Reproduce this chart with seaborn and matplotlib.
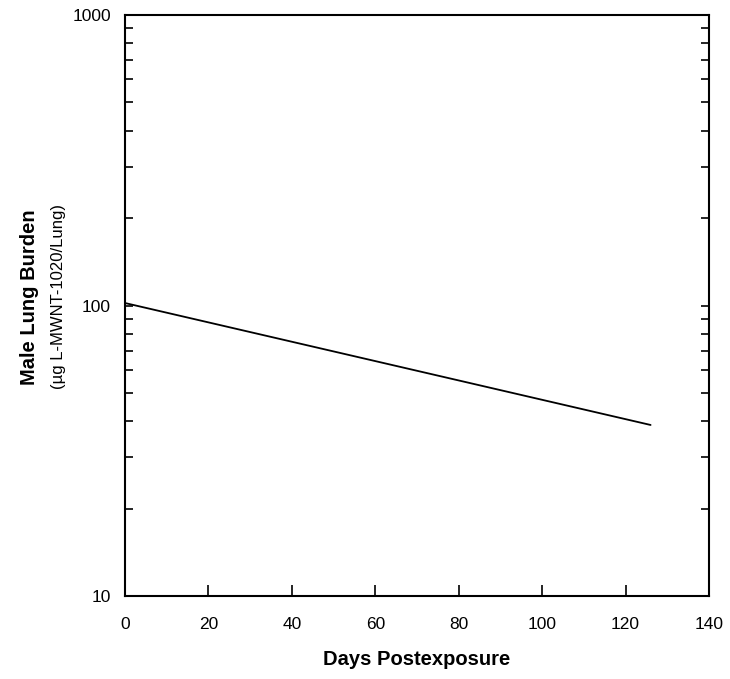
import pandas as pd
import seaborn as sns
import matplotlib.pyplot as plt
from matplotlib.ticker import LogLocator, FixedLocator, NullFormatter

days = [0, 126]
burden = [102, 38.8]

x_ticks = [0, 20, 40, 60, 80, 100, 120, 140]
y_ticks = [10, 100, 1000]

sns.set_style("ticks")
plt.rcParams['font.family'] = ['Liberation Sans', 'DejaVu Sans']
plt.rcParams['text.color'] = 'black'
plt.rcParams['axes.labelcolor'] = 'black'
plt.rcParams['xtick.color'] = 'black'
plt.rcParams['ytick.color'] = 'black'

df = pd.DataFrame({"Days": days, "Burden": burden})

fig = plt.figure(figsize=(7.30, 6.79), dpi=100)
ax = fig.add_axes([0.1712, 0.1222, 0.8, 0.8557])

sns.lineplot(data=df, x="Days", y="Burden", ax=ax, color="black", linewidth=1.3)

ax.set_yscale("log")
ax.set_xlim(0, 140)
ax.set_ylim(10, 1000)
ax.xaxis.set_major_locator(FixedLocator(x_ticks))
ax.yaxis.set_major_locator(FixedLocator(y_ticks))
ax.yaxis.set_minor_locator(LogLocator(base=10, subs=range(2, 10)))
ax.yaxis.set_minor_formatter(NullFormatter())
ax.set_yticklabels([str(t) for t in y_ticks])

for s in ax.spines.values():
    s.set_visible(True)
    s.set_linewidth(1.5)
    s.set_color("black")

ax.tick_params(axis="both", which="both", direction="in", labelsize=12.5,
               color="black", labelcolor="black")
ax.tick_params(axis="y", which="both", right=True, length=6, width=1.2, pad=10)
ax.tick_params(axis="x", which="major", length=8, width=1.2, pad=15)

ax.set_xlabel("Days Postexposure", fontsize=14.5, fontweight="bold", labelpad=13)
ax.set_ylabel("")
fig.text(0.040, 0.563, "Male Lung Burden", rotation=90, fontsize=14.5, fontweight="bold",
         ha="center", va="center")
fig.text(0.080, 0.563, "(µg L-MWNT-1020/Lung)", rotation=90, fontsize=12,
         ha="center", va="center")

fig.savefig("out.png", dpi=100)
